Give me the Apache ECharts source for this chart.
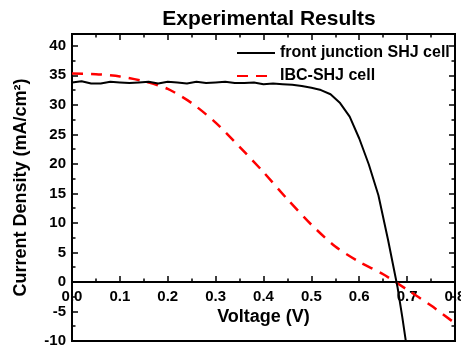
<!DOCTYPE html>
<html><head><meta charset="utf-8">
<script src="https://cdn.jsdelivr.net/npm/echarts@6/dist/echarts.min.js"></script>
<style>html,body{margin:0;padding:0;background:#fff}#c{width:461px;height:349px}</style>
</head><body><div id="c"></div>
<script>
const titleText = 'Experimental Results';
const seriesNames = ['front junction SHJ cell', 'IBC-SHJ cell'];
const voltageFront = [0,0.02,0.04,0.06,0.08,0.10,0.12,0.14,0.16,0.18,0.20,0.22,0.24,0.26,0.28,0.30,0.32,0.34,0.36,0.38,0.40,0.42,0.44,0.46,0.48,0.50,0.52,0.54,0.56,0.58,0.60,0.62,0.64,0.66,0.68,0.69,0.70];
const currentFront = [33.8,34.0,33.6,33.6,33.9,33.8,33.7,33.8,33.9,33.6,33.9,33.8,33.6,33.9,33.7,33.8,33.9,33.7,33.7,33.8,33.5,33.6,33.5,33.4,33.2,32.9,32.5,31.8,30.3,28.0,24.3,19.9,14.7,7.2,-0.9,-6.0,-11.5];
const voltageIBC = [0,0.05,0.10,0.15,0.20,0.25,0.30,0.35,0.40,0.45,0.50,0.55,0.60,0.65,0.70,0.75,0.80];
const currentIBC = [35.3,35.2,34.8,34.0,32.7,30.3,27.0,22.9,18.6,14.0,9.7,6.0,3.4,1.3,-1.3,-4.0,-7.0];
const xRange = [0, 0.8];
const xStep = 0.1;
const yRange = [-10, 42];
const yStep = 5;

const font = 'Liberation Sans, Arial, sans-serif';
const gridTop = 34, gridBottom = 8, chartH = 349;
const plotH = chartH - gridTop - gridBottom;
// offset of the labelled x axis so that it sits on the y = 0 line
const zeroOffset = -plotH * (0 - yRange[0]) / (yRange[1] - yRange[0]);
const chart = echarts.init(document.getElementById('c'));
const pair = (xs, ys) => xs.map((x, i) => [x, ys[i]]);
const axisCommon = {
  axisLine: {onZero: false, lineStyle: {color: '#000', width: 2}},
  axisTick: {inside: true, length: 6, lineStyle: {color: '#000', width: 1.5}},
  minorTick: {show: true, splitNumber: 2, length: 3.5, lineStyle: {color: '#000', width: 1.5}},
  splitLine: {show: false}
};
chart.setOption({
  animation: false,
  title: {text: titleText, left: 264, textAlign: 'center', top: 4,
    textStyle: {fontFamily: font, fontWeight: 'bold', fontSize: 21, color: '#000'}},
  grid: {left: 72, right: 6, top: gridTop, bottom: gridBottom, show: true, borderColor: '#000', borderWidth: 2,
    outerBoundsMode: 'none', containLabel: false},
  legend: {left: 236, top: 45, padding: 0, orient: 'vertical', itemWidth: 38, itemHeight: 14, itemGap: 7,
    itemStyle: {opacity: 0},
    textStyle: {fontFamily: font, fontWeight: 'bold', fontSize: 16, color: '#000'},
    data: seriesNames},
  xAxis: [
    Object.assign({}, axisCommon, {type: 'value', min: xRange[0], max: xRange[1], interval: xStep,
      position: 'bottom', offset: zeroOffset,
      axisLabel: {margin: 7, fontFamily: font, fontWeight: 'bold', fontSize: 15, color: '#000',
        formatter: v => v.toFixed(1)},
      name: 'Voltage (V)', nameLocation: 'middle', nameGap: 26, nameMoveOverlap: false,
      nameTextStyle: {fontFamily: font, fontWeight: 'bold', fontSize: 18, color: '#000'}}),
    Object.assign({}, axisCommon, {type: 'value', min: xRange[0], max: xRange[1], interval: xStep,
      position: 'top', axisLabel: {show: false}})
  ],
  yAxis: [
    Object.assign({}, axisCommon, {type: 'value', min: yRange[0], max: yRange[1], interval: yStep,
      position: 'left',
      axisLabel: {margin: 6, fontFamily: font, fontWeight: 'bold', fontSize: 15, color: '#000',
        formatter: v => (Math.round(v) % yStep === 0 ? String(v) : '')},
      name: 'Current Density (mA/cm²)', nameLocation: 'middle', nameGap: 42, nameMoveOverlap: false,
      nameTextStyle: {fontFamily: font, fontWeight: 'bold', fontSize: 18, color: '#000'}}),
    Object.assign({}, axisCommon, {type: 'value', min: yRange[0], max: yRange[1], interval: yStep,
      position: 'right', axisLabel: {show: false}})
  ],
  series: [
    {name: seriesNames[0], type: 'line', data: pair(voltageFront, currentFront), symbol: 'none',
      lineStyle: {color: '#000', width: 2}, itemStyle: {color: '#000'}, clip: true, z: 3},
    {name: seriesNames[1], type: 'line', data: pair(voltageIBC, currentIBC), symbol: 'none', smooth: 0.25,
      lineStyle: {color: '#ff0000', width: 2.5, type: [11, 8]}, itemStyle: {color: '#ff0000'}, clip: true, z: 2}
  ]
});
</script></body></html>
